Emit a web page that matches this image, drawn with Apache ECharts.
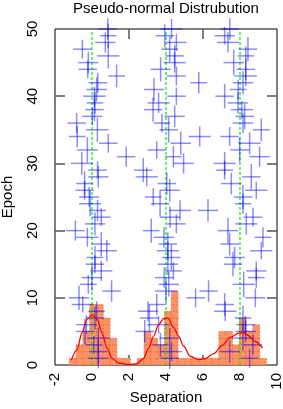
<!DOCTYPE html>
<html><head><meta charset="utf-8">
<script src="https://cdn.jsdelivr.net/npm/echarts@6/dist/echarts.min.js"></script>
<style>html,body{margin:0;padding:0;background:#fff}#c{width:283px;height:409px}</style>
</head><body><div id="c"></div>
<script>
const titleText = 'Pseudo-normal Distrubution';
const xTitle = 'Separation';
const yTitle = 'Epoch';
const xTicks = [-2, 0, 2, 4, 6, 8, 10];
const yTicks = [0, 10, 20, 30, 40, 50];
const guideLines = [0, 4, 8];

const epochs = [1,2,3,4,5,6,7,8,9,10,11,12,13,14,15,16,17,18,19,20,21,22,23,24,25,
  26,27,28,29,30,31,32,33,34,35,36,37,38,39,40,41,42,43,44,45,46,47,48,49,50];

const sepA = [0.34,0.34,0.10,0.34,-0.38,-0.30,0.16,0.25,-0.50,-0.70,
  1.06,-0.20,0.00,0.50,0.16,0.16,0.80,0.50,-0.25,-0.90,
  0.16,0.50,0.30,-0.10,-0.15,-0.40,-0.40,0.34,0.30,-0.55,
  1.85,-0.25,0.88,-0.80,0.29,-0.83,0.02,0.13,0.16,0.13,
  0.25,0.31,1.33,-0.23,-0.20,0.88,-0.52,0.72,0.88,0.85];
const sepB = [4.20,4.30,3.70,4.20,2.85,3.60,3.10,3.03,3.50,5.60,
  4.00,4.15,3.90,4.40,4.10,4.29,4.10,4.10,3.89,3.20,
  4.56,4.22,4.76,3.68,3.31,4.20,4.04,2.96,2.77,4.95,
  4.40,3.50,4.80,5.82,4.14,3.78,4.47,3.30,3.60,4.56,
  3.35,5.77,4.56,3.71,4.47,4.47,4.20,4.56,3.93,4.30];
const sepC = [8.52,7.44,8.70,8.16,8.30,8.30,8.16,7.20,7.17,8.83,
  6.30,8.20,8.88,8.88,7.62,7.71,9.15,7.44,9.24,7.35,
  8.34,8.70,6.27,8.16,8.16,8.88,7.53,8.61,7.17,7.17,
  9.06,7.98,8.52,7.44,9.15,8.16,8.25,8.10,7.89,7.17,
  7.90,8.16,8.31,8.31,7.66,8.31,8.43,7.35,7.17,7.45];

const errXA = [0.55,0.5,0.45,0.6,0.5,0.55,0.5,0.45,0.6,0.55,
  0.5,0.45,0.55,0.6,0.5,0.45,0.55,0.5,0.6,0.5,
  0.55,0.5,0.45,0.6,0.55,0.5,0.45,0.55,0.5,0.6,
  0.5,0.55,0.5,0.45,0.6,0.5,0.55,0.5,0.45,0.6,
  0.55,0.5,0.45,0.5,0.55,0.6,0.5,0.55,0.45,0.5];
const errYA = [1.5,1.8,1.3,1.6,1.9,1.4,1.7,1.5,1.2,1.8,
  1.6,1.4,1.9,1.5,1.3,1.7,1.6,1.8,1.4,1.5,
  1.7,1.3,1.6,1.9,1.5,1.4,1.8,1.6,1.3,1.7,
  1.5,1.9,1.4,1.6,1.8,1.5,1.3,1.7,1.6,1.4,
  1.8,1.5,1.7,1.3,1.6,1.9,1.4,1.5,1.8,1.6];
const errXB = [0.5,0.6,0.45,0.55,0.5,0.6,0.5,0.55,0.45,0.5,
  0.6,0.55,0.5,0.45,0.55,0.5,0.6,0.5,0.55,0.45,
  0.5,0.55,0.6,0.5,0.45,0.55,0.5,0.6,0.5,0.55,
  0.45,0.5,0.55,0.6,0.5,0.45,0.55,0.5,0.6,0.5,
  0.55,0.45,0.5,0.55,0.6,0.5,0.45,0.55,0.5,0.6];
const errYB = [1.6,1.4,1.8,1.5,1.7,1.3,1.9,1.5,1.6,1.4,
  1.7,1.8,1.5,1.3,1.6,1.9,1.4,1.7,1.5,1.8,
  1.4,1.6,1.5,1.9,1.3,1.7,1.6,1.4,1.8,1.5,
  1.6,1.3,1.7,1.5,1.9,1.4,1.6,1.8,1.5,1.3,
  1.7,1.6,1.4,1.8,1.5,1.6,1.9,1.3,1.7,1.5];
const errXC = [0.45,0.55,0.5,0.6,0.55,0.5,0.45,0.6,0.5,0.55,
  0.5,0.6,0.45,0.55,0.5,0.55,0.6,0.5,0.45,0.55,
  0.6,0.5,0.55,0.45,0.5,0.6,0.55,0.5,0.45,0.6,
  0.55,0.5,0.6,0.5,0.45,0.55,0.5,0.6,0.55,0.5,
  0.45,0.55,0.6,0.5,0.55,0.45,0.5,0.6,0.55,0.5];
const errYC = [1.4,1.7,1.5,1.9,1.6,1.3,1.8,1.5,1.7,1.4,
  1.6,1.9,1.5,1.4,1.8,1.6,1.3,1.7,1.5,1.9,
  1.6,1.4,1.7,1.5,1.8,1.3,1.6,1.9,1.4,1.7,
  1.5,1.8,1.6,1.4,1.7,1.5,1.9,1.3,1.6,1.8,
  1.4,1.7,1.5,1.6,1.9,1.4,1.8,1.5,1.3,1.6];

const histStart = -1.23;
const histWidth = 0.3676;
const histCounts = [1,3,5,9,9,7,4,1,1,0,1,5,4,3,8,11,1,1,1,1,1,1,5,5,3,7,5,6,1];

const curveX = [-1.12,-0.81,-0.54,-0.27,0.0,0.27,0.54,0.81,1.08,1.44,1.98,2.43,2.79,3.06,3.33,3.6,3.87,4.1,4.41,4.68,4.95,5.31,5.77,6.13,6.58,7.03,7.48,7.93,8.18,8.38,8.83,9.22];
const curveY = [0.7,2.3,4.8,6.8,7.45,6.9,4.8,2.5,1.0,0.3,0.05,0.2,1.0,2.5,4.3,6.0,6.9,7.0,5.6,4.3,2.8,1.3,0.8,0.95,1.7,2.9,4.1,4.75,4.8,4.5,3.5,2.5];

const FONT = "'Liberation Sans', Arial, Helvetica, sans-serif";

const crossData = [];
[[sepA, errXA, errYA], [sepB, errXB, errYB], [sepC, errXC, errYC]].forEach(function (g) {
  for (let i = 0; i < epochs.length; i++) crossData.push([g[0][i], epochs[i], g[1][i], g[2][i]]);
});
const histData = histCounts.map(function (c, i) {
  return [histStart + histWidth * i, histStart + histWidth * (i + 1), c];
});
const curveData = curveX.map(function (x, i) { return [x, curveY[i]]; });

function crossRender(params, api) {
  const x = api.value(0), y = api.value(1), hx = api.value(2), hy = api.value(3);
  const l = api.coord([x - hx, y]), r = api.coord([x + hx, y]);
  const t = api.coord([x, y + hy]), b = api.coord([x, y - hy]);
  const st = { stroke: 'rgba(0,0,255,0.45)', lineWidth: 1.5 };
  return { type: 'group', children: [
    { type: 'line', shape: { x1: l[0], y1: l[1], x2: r[0], y2: r[1] }, style: st },
    { type: 'line', shape: { x1: t[0], y1: t[1], x2: b[0], y2: b[1] }, style: st }
  ]};
}
function histRender(params, api) {
  const x0 = api.value(0), x1 = api.value(1), n = api.value(2);
  const children = [];
  for (let k = 0; k < n; k++) {
    const p0 = api.coord([x0, k + 1]), p1 = api.coord([x1, k]);
    children.push({ type: 'rect',
      shape: { x: p0[0], y: p0[1], width: p1[0] - p0[0], height: p1[1] - p0[1] },
      style: { fill: '#FF9366', stroke: '#E8622C', lineWidth: 1, lineDash: [1, 1.5] } });
  }
  return { type: 'group', children: children };
}
function guideRender(params, api) {
  const x = api.value(0);
  const a = api.coord([x, yTicks[0]]), b = api.coord([x, yTicks[yTicks.length - 1]]);
  return { type: 'line', shape: { x1: a[0], y1: a[1], x2: b[0], y2: b[1] },
    style: { stroke: '#00EE00', lineWidth: 1.2, lineDash: [3, 2] } };
}

const tickStyle = { show: true, inside: true, length: 10, lineStyle: { color: '#555', width: 1.5 } };
const labelStyle = { color: '#000', fontSize: 15, fontFamily: FONT };

function xAxisDef(pos, showLabel) {
  return {
    type: 'value', position: pos, min: xTicks[0], max: xTicks[xTicks.length - 1], interval: 2,
    axisLine: { show: false, onZero: false }, splitLine: { show: false },
    axisTick: Object.assign({}, tickStyle, { customValues: [2, 6] }),
    axisLabel: Object.assign({ show: showLabel, rotate: 90, margin: 8 }, labelStyle),
    name: showLabel ? xTitle : '', nameLocation: 'middle', nameGap: 25, nameMoveOverlap: false,
    nameTextStyle: { color: '#000', fontSize: 15, fontFamily: FONT }
  };
}
function yAxisDef(pos, showLabel) {
  return {
    type: 'value', position: pos, min: yTicks[0], max: yTicks[yTicks.length - 1], interval: 10,
    axisLine: { show: false, onZero: false }, splitLine: { show: false },
    axisTick: Object.assign({}, tickStyle, { customValues: [10, 20, 30, 40] }),
    axisLabel: Object.assign({ show: showLabel, rotate: 90, margin: 15 }, labelStyle),
    name: showLabel ? yTitle : '', nameLocation: 'middle', nameGap: 40, nameRotate: 90, nameMoveOverlap: false,
    nameTextStyle: { color: '#000', fontSize: 15, fontFamily: FONT }
  };
}

const chart = echarts.init(document.getElementById('c'), null, { renderer: 'canvas' });
chart.setOption({
  animation: false,
  backgroundColor: '#fff',
  grid: { left: 55, right: 6, top: 29, bottom: 44, containLabel: false, outerBoundsMode: 'none',
    show: true, borderColor: '#000', borderWidth: 1, backgroundColor: 'transparent' },
  graphic: [{ type: 'text', x: 166, y: 9, style: { text: titleText, textAlign: 'center', textVerticalAlign: 'middle', fontSize: 15, fontFamily: FONT, fill: '#000' } }],
  xAxis: [xAxisDef('bottom', true), xAxisDef('top', false)],
  yAxis: [yAxisDef('left', true), yAxisDef('right', false)],
  series: [
    { type: 'custom', name: 'hist', z: 1, renderItem: histRender, data: histData, encode: { x: [0, 1], y: 2 }, silent: true },
    { type: 'custom', name: 'guides', z: 2, renderItem: guideRender, data: guideLines.map(function (v) { return [v]; }), encode: { x: 0 }, silent: true },
    { type: 'custom', name: 'epochs', z: 3, renderItem: crossRender, data: crossData, encode: { x: 0, y: 1 }, silent: true, clip: false },
    { type: 'line', name: 'density', z: 4, data: curveData, smooth: 0.3, smoothMonotone: 'x', showSymbol: false, symbol: 'none',
      lineStyle: { color: '#FF0000', width: 1.3 }, silent: true }
  ]
});
</script></body></html>
